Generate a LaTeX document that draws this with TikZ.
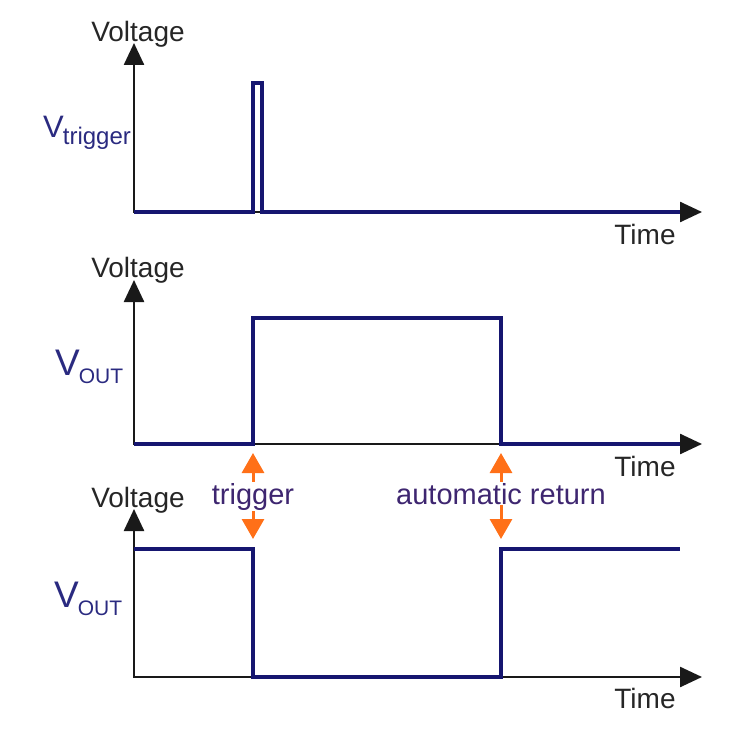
\documentclass[tikz,border=0pt]{standalone}
\usepackage{fontspec}
\setmainfont{Liberation Sans}
\usetikzlibrary{positioning,arrows.meta}
\definecolor{signalblue}{RGB}{22,22,112}
\definecolor{labelblue}{RGB}{42,42,128}
\definecolor{eventpurple}{RGB}{62,38,112}
\definecolor{eventorange}{RGB}{255,112,24}

\begin{document}
\begin{tikzpicture}[x=1pt, y=-1pt,
  axis/.style={draw=black!90, line width=2.5pt, {Triangle[length=22pt,width=20pt]}-{Triangle[length=22pt,width=20pt]}},
  signal/.style={draw=signalblue, line width=4pt},
  axlabel/.style={font=\fontsize{28}{30}\selectfont, text=black!85, inner sep=0pt, anchor=base},
  vlabel/.style={font=\fontsize{37}{40}\selectfont, text=labelblue, inner sep=0pt, anchor=base west},
  event/.style={font=\fontsize{29}{32}\selectfont, text=eventpurple, inner sep=1pt, anchor=base},
  marker/.style={draw=eventorange, line width=3pt, -{Triangle[length=20pt,width=22pt]}}
]
\useasboundingbox (0,0) rectangle (739,730);

% Ejes
\coordinate (o1) at (134,212);
\coordinate (y1) at (134,43);
\coordinate (x1) at (702,212);
\coordinate (o2) at (134,444);
\coordinate (y2) at (134,280);
\coordinate (x2) at (702,444);
\coordinate (o3) at (134,677);
\coordinate (y3) at (134,509);
\coordinate (x3) at (702,677);
\draw[axis] (y1) -- (o1) -- (x1);
\draw[axis] (y2) -- (o2) -- (x2);
\draw[axis] (y3) -- (o3) -- (x3);

% Rotulos
\node[axlabel] (volt1) at (138,42) {Voltage};
\node[axlabel] (volt2) at (138,277) {Voltage};
\node[axlabel] (volt3) at (138,507) {Voltage};
\node[axlabel] (time1) at (645,244) {Time};
\node[axlabel] (time2) at (645,476) {Time};
\node[axlabel] (time3) at (645,708) {Time};
\node[vlabel, font=\fontsize{31}{34}\selectfont] (vtrig) at (43,138) {V\kern-1pt\raisebox{-7pt}{\fontsize{24}{24}\selectfont trigger}};
\node[vlabel] (vout1) at (55,375) {V\kern-1pt\raisebox{-8pt}{\fontsize{21}{21}\selectfont OUT}};
\node[vlabel] (vout2) at (54,607) {V\kern-1pt\raisebox{-8pt}{\fontsize{21}{21}\selectfont OUT}};

% Senales
\draw[signal] (o1) -- (253,212) -- (253,83) -- (262,83) -- (262,212) -- (680,212);
\draw[signal] (o2) -- (253,444) -- (253,318) -- (501,318) -- (501,444) -- (680,444);
\draw[signal] (134,549) -- (253,549) -- (253,677) -- (501,677) -- (501,549) -- (680,549);

% Eventos
\node[event] (trig) at (253,504) {trigger};
\node[event] (ret) at (501,504) {automatic return};
\coordinate (trigup) at (253,453);
\coordinate (trigdown) at (253,539);
\coordinate (retup) at (501,453);
\coordinate (retdown) at (501,539);
\draw[marker] (trig) -- (trigup);
\draw[marker] (trig) -- (trigdown);
\draw[marker] (ret) -- (retup);
\draw[marker] (ret) -- (retdown);

\end{tikzpicture}
\end{document}
